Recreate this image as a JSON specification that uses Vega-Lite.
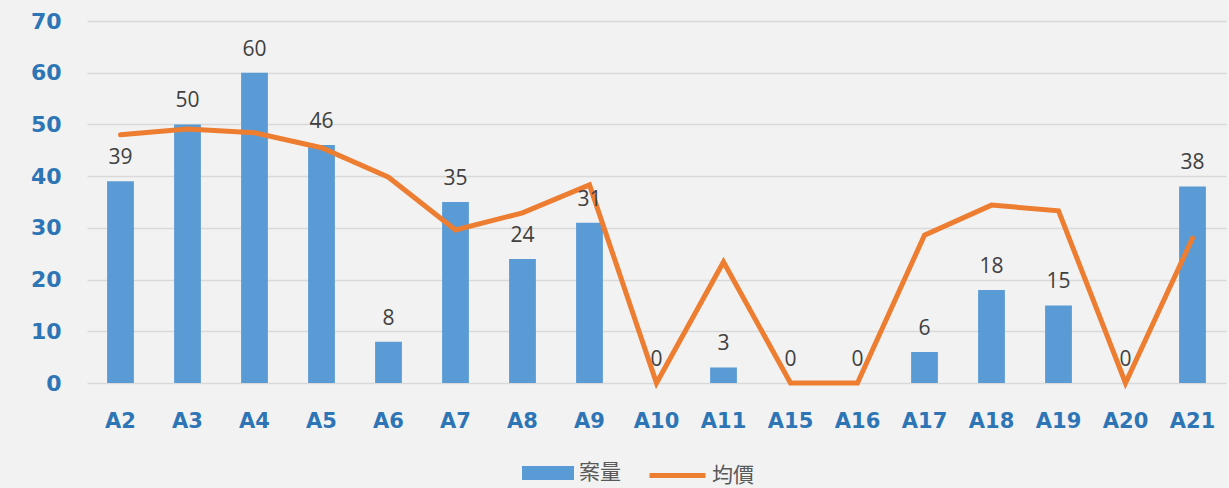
{
  "$schema": "https://vega.github.io/schema/vega-lite/v6.json",
  "width": 1139,
  "height": 362,
  "autosize": {"type": "none"},
  "padding": {"left": 87, "top": 21, "right": 3, "bottom": 105},
  "background": "#f2f2f2",
  "config": {"view": {"stroke": null}},
  "data": {
    "values": [
      {"area": "A2", "count": 39, "price": 48.0},
      {"area": "A3", "count": 50, "price": 49.1},
      {"area": "A4", "count": 60, "price": 48.4},
      {"area": "A5", "count": 46, "price": 45.5},
      {"area": "A6", "count": 8, "price": 39.8},
      {"area": "A7", "count": 35, "price": 29.6},
      {"area": "A8", "count": 24, "price": 32.9},
      {"area": "A9", "count": 31, "price": 38.3},
      {"area": "A10", "count": 0, "price": 0},
      {"area": "A11", "count": 3, "price": 23.4},
      {"area": "A15", "count": 0, "price": 0},
      {"area": "A16", "count": 0, "price": 0},
      {"area": "A17", "count": 6, "price": 28.6},
      {"area": "A18", "count": 18, "price": 34.4},
      {"area": "A19", "count": 15, "price": 33.3},
      {"area": "A20", "count": 0, "price": 0},
      {"area": "A21", "count": 38, "price": 28.0}
    ]
  },
  "encoding": {
    "x": {
      "field": "area",
      "type": "nominal",
      "sort": null,
      "scale": {"paddingInner": 0.6, "paddingOuter": 0.3},
      "axis": {
        "title": null,
        "labelAngle": 0,
        "ticks": false,
        "domain": false,
        "labelPadding": 27,
        "labelFont": "DejaVu Sans",
        "labelFontWeight": "bold",
        "labelFontSize": 21,
        "labelColor": "#2e75b6"
      }
    }
  },
  "layer": [
    {
      "mark": {"type": "bar", "fill": "#5b9bd5"},
      "encoding": {
        "y": {
          "field": "count",
          "type": "quantitative",
          "scale": {"domain": [0, 70]},
          "axis": {
            "title": null,
            "values": [0, 10, 20, 30, 40, 50, 60, 70],
            "ticks": false,
            "domain": false,
            "grid": true,
            "gridColor": "#d9d9d9",
            "gridWidth": 1.5,
            "labelPadding": 26,
            "labelFont": "DejaVu Sans",
            "labelFontWeight": "bold",
            "labelFontSize": 22,
            "labelColor": "#2e75b6"
          }
        },
        "fill": {
          "datum": "案量",
          "scale": {"range": ["#5b9bd5"]},
          "legend": {
            "orient": "none",
            "legendX": 435,
            "legendY": 426,
            "title": null,
            "symbolType": "M-1,-0.27H1V0.27H-1Z",
            "symbolSize": 2704,
            "symbolStrokeWidth": 0,
            "symbolOpacity": 1,
            "labelOffset": 5,
            "labelFont": "Noto Sans CJK TC",
            "labelFontSize": 21,
            "labelColor": "#595959"
          }
        }
      }
    },
    {
      "mark": {"type": "line", "strokeWidth": 5, "strokeCap": "round", "strokeJoin": "miter"},
      "encoding": {
        "y": {"field": "price", "type": "quantitative", "title": null},
        "stroke": {
          "datum": "均價",
          "scale": {"range": ["#ed7d31"]},
          "legend": {
            "orient": "none",
            "legendX": 560,
            "legendY": 424,
            "title": null,
            "symbolType": "stroke",
            "symbolSize": 3136,
            "symbolStrokeWidth": 5,
            "labelOffset": 4,
            "labelFont": "Noto Sans CJK TC",
            "labelFontSize": 21,
            "labelColor": "#595959"
          }
        }
      }
    },
    {
      "mark": {"type": "text", "baseline": "alphabetic", "dy": -17, "font": "Open Sans", "fontSize": 21, "color": "#404040"},
      "encoding": {
        "y": {"field": "count", "type": "quantitative", "title": null},
        "text": {"field": "count", "type": "quantitative"}
      }
    }
  ]
}
